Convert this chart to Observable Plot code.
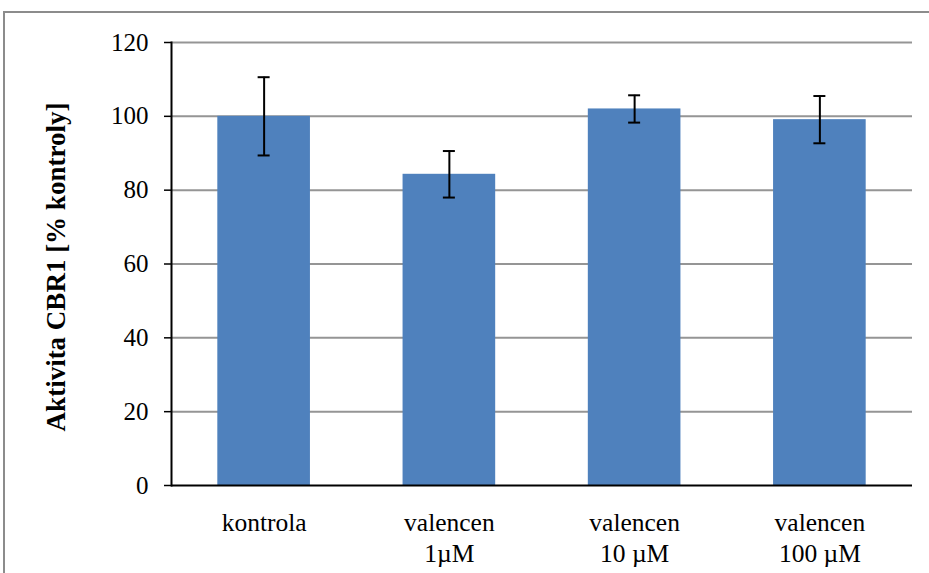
<!DOCTYPE html>
<html>
<head>
<meta charset="utf-8">
<script src="https://cdn.jsdelivr.net/npm/d3@7"></script>
<script src="https://cdn.jsdelivr.net/npm/@observablehq/plot@0.6"></script>
<style>
  html, body { margin: 0; padding: 0; background: #fff; }
  #chart { position: relative; width: 929px; height: 573px; overflow: hidden; }
  #chart .outline {
    position: absolute; left: 3px; top: 11px; right: -10px; bottom: -10px;
    border: 2px solid #8c8c8c; pointer-events: none;
  }
</style>
</head>
<body>
<div id="chart"></div>
<script>
// CBR1 activity relative to control, mean ± SD
const groups = ["kontrola", "valencen\n1µM", "valencen\n10 µM", "valencen\n100 µM"];
const means = [100, 84.3, 102.0, 99.1];
const errors = [10.6, 6.3, 3.7, 6.4];
const yTicks = [0, 20, 40, 60, 80, 100, 120];
const yTitle = "Aktivita CBR1 [% kontroly]";

const rows = groups.map((g, i) => ({group: g, mean: means[i], err: errors[i]}));

const W = 929, H = 573;
const mLeft = 171, mRight = 17, mTop = 42, mBottom = 88;
const bandStep = (W - mLeft - mRight) / 4;
const capInset = (bandStep * 0.5 - 12) / 2;

const chart = Plot.plot({
  width: W,
  height: H,
  marginLeft: mLeft,
  marginRight: mRight,
  marginTop: mTop,
  marginBottom: mBottom,
  style: {
    fontFamily: "'Liberation Serif', 'Times New Roman', serif",
    fontSize: "24px",
    background: "#fff",
    color: "#000"
  },
  x: {domain: groups, paddingInner: 0.5, paddingOuter: 0.25, round: false, label: null, axis: null},
  y: {domain: [0, 120], label: null, axis: null},
  marks: [
    Plot.gridY(yTicks.filter(d => d > 0), {stroke: "#959595", strokeOpacity: 1, strokeWidth: 2}),
    Plot.barY(rows, {x: "group", y: "mean", fill: "#4F81BD"}),
    // error bars
    Plot.ruleX(rows, {x: "group", y1: d => d.mean - d.err, y2: d => d.mean + d.err, stroke: "#000", strokeWidth: 2}),
    Plot.tickY(rows, {x: "group", y: d => d.mean + d.err, stroke: "#000", strokeWidth: 2, insetLeft: capInset, insetRight: capInset}),
    Plot.tickY(rows, {x: "group", y: d => d.mean - d.err, stroke: "#000", strokeWidth: 2, insetLeft: capInset, insetRight: capInset}),
    // axes
    Plot.ruleY([0], {stroke: "#000", strokeWidth: 2}),
    Plot.frame({anchor: "left", stroke: "#000", strokeWidth: 2}),
    Plot.axisY({ticks: yTicks, tickSize: 7, tickPadding: 16, tickFormat: d => String(d), fontSize: 25, stroke: "#000", strokeWidth: 1.5, label: null}),
    Plot.axisX({tickSize: 0, tickPadding: 24, fontSize: 25.5, lineHeight: 1.2, label: null}),
    Plot.text([yTitle], {frameAnchor: "left", textAnchor: "middle", rotate: -90, dx: -115, dy: 3, fontSize: 27, fontWeight: "bold", fill: "#000"})
  ]
});

const host = document.getElementById("chart");
host.appendChild(chart);
const outline = document.createElement("div");
outline.className = "outline";
host.appendChild(outline);
</script>
</body>
</html>
